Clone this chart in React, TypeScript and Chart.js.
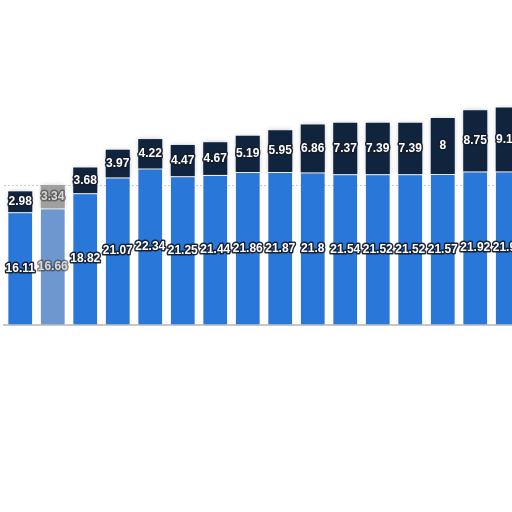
import { useEffect, useRef } from 'react'
import { Chart, registerables } from 'chart.js'

Chart.register(...registerables)

const categories = ['1', '2', '3', '4', '5', '6', '7', '8', '9', '10', '11', '12', '13', '14', '15', '16']
const baseValues = [16.11, 16.66, 18.82, 21.07, 22.34, 21.25, 21.44, 21.86, 21.87, 21.8, 21.54, 21.52, 21.52, 21.57, 21.92, 21.94]
const topValues = [2.98, 3.34, 3.68, 3.97, 4.22, 4.47, 4.67, 5.19, 5.95, 6.86, 7.37, 7.39, 7.39, 8, 8.75, 9.13]

const BLUE = '#2a77da'
const NAVY = '#10243e'

// second bar looks washed out in the picture
const blueColors = baseValues.map((_, i) => (i === 1 ? '#6f97cf' : BLUE))
const navyColors = topValues.map((_, i) => (i === 1 ? '#a0a0a0' : NAVY))

const shadowPlugin = {
  id: 'barShadow',
  beforeDatasetsDraw(chart: any) {
    const ctx = chart.ctx
    ctx.save()
    ctx.shadowColor = 'rgba(0,0,0,0.22)'
    ctx.shadowBlur = 5
  },
  afterDatasetsDraw(chart: any) {
    chart.ctx.restore()
  },
}

const labelPlugin = {
  id: 'centerLabels',
  afterDatasetsDraw(chart: any) {
    const ctx = chart.ctx
    ctx.save()
    ctx.font = 'bold 12px "Liberation Sans", Arial, sans-serif'
    ctx.textAlign = 'center'
    ctx.textBaseline = 'middle'
    ctx.lineJoin = 'round'
    chart.data.datasets.forEach((ds: any, di: number) => {
      const meta = chart.getDatasetMeta(di)
      meta.data.forEach((bar: any, i: number) => {
        const { x, y, base } = bar.getProps(['x', 'y', 'base'], true)
        const cy = (y + base) / 2
        const text = String(ds.data[i])
        ctx.strokeStyle = i === 1 ? 'rgba(60,60,60,0.6)' : 'rgba(20,30,45,0.95)'
        ctx.lineWidth = 3
        ctx.strokeText(text, x, cy)
        ctx.fillStyle = i === 1 ? '#d8d8d8' : '#ffffff'
        ctx.fillText(text, x, cy)
      })
    })
    ctx.restore()
  },
}

export default function App() {
  const canvasRef = useRef<HTMLCanvasElement>(null)
  const chartRef = useRef<Chart | null>(null)

  useEffect(() => {
    if (!canvasRef.current) return
    if (chartRef.current) chartRef.current.destroy()

    chartRef.current = new Chart(canvasRef.current, {
      type: 'bar',
      data: {
        labels: categories,
        datasets: [
          {
            label: 'base',
            data: baseValues,
            backgroundColor: blueColors,
            borderColor: '#ffffff',
            borderWidth: { top: 1, left: 0, right: 0, bottom: 0 },
            borderSkipped: false,
            barPercentage: 1,
            categoryPercentage: 0.74,
          },
          {
            label: 'top',
            data: topValues,
            backgroundColor: navyColors,
            borderWidth: 0,
            barPercentage: 1,
            categoryPercentage: 0.74,
          },
        ],
      },
      options: {
        animation: false,
        responsive: true,
        maintainAspectRatio: false,
        layout: { padding: { left: 4, right: 0, top: 45, bottom: 187 } },
        plugins: {
          legend: { display: false },
          tooltip: { enabled: false },
          title: { display: false },
        },
        scales: {
          x: {
            stacked: true,
            ticks: { display: false },
            grid: { display: false, drawTicks: false },
            border: { display: true, color: '#c8c8c8', width: 2 },
          },
          y: {
            stacked: true,
            min: 0,
            max: 40,
            ticks: { display: false, stepSize: 20 },
            grid: {
              drawTicks: false,
              color: (c: any) => (c.tick && c.tick.value === 20 ? 'rgba(190,190,190,0.8)' : 'rgba(0,0,0,0)'),
            },
            border: { display: false, dash: [2, 2] },
          },
        },
      },
      plugins: [shadowPlugin, labelPlugin],
    })

    return () => {
      if (chartRef.current) {
        chartRef.current.destroy()
        chartRef.current = null
      }
    }
  }, [])

  return (
    <div style={{ position: 'absolute', left: 0, top: 0, width: 512, height: 512, overflow: 'hidden', background: '#fff' }}>
      <div style={{ position: 'relative', width: 524, height: 512 }}>
        <canvas ref={canvasRef}></canvas>
      </div>
    </div>
  )
}
